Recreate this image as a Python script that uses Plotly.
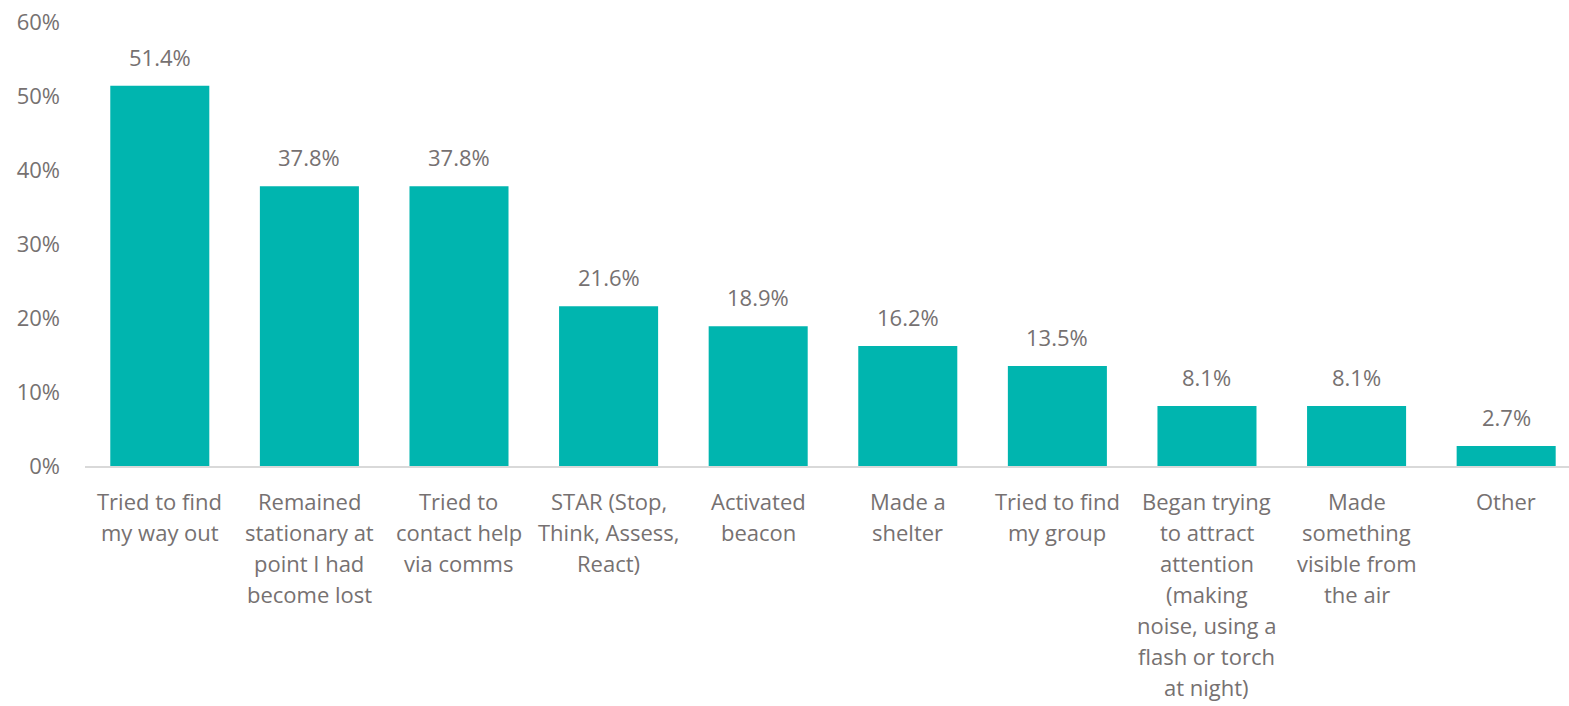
import plotly.graph_objects as go

categories = [
    "Tried to find<br>my way out",
    "Remained<br>stationary at<br>point I had<br>become lost",
    "Tried to<br>contact help<br>via comms",
    "STAR (Stop,<br>Think, Assess,<br>React)",
    "Activated<br>beacon",
    "Made a<br>shelter",
    "Tried to find<br>my group",
    "Began trying<br>to attract<br>attention<br>(making<br>noise, using a<br>flash or torch<br>at night)",
    "Made<br>something<br>visible from<br>the air",
    "Other",
]
values = [51.4, 37.8, 37.8, 21.6, 18.9, 16.2, 13.5, 8.1, 8.1, 2.7]
y_ticks = [0, 10, 20, 30, 40, 50, 60]

text_color = "#767171"
bar_color = "#00B5AF"
font_family = "Open Sans, DejaVu Sans, sans-serif"
font_size = 22
label_font = dict(size=font_size, color=text_color, family=font_family)

x_pos = list(range(len(categories)))

fig = go.Figure(
    go.Bar(
        x=x_pos,
        y=values,
        marker=dict(color=bar_color, line=dict(width=0)),
        hoverinfo="skip",
    )
)

# value labels sitting above each bar
for xi, v in zip(x_pos, values):
    fig.add_annotation(
        x=xi, y=v, text=f"{v:.1f}%", showarrow=False,
        yanchor="bottom", yshift=12, font=label_font,
    )

# category labels, one annotation per line for looser line spacing
first_line_offset = 35
line_step = 31
for xi, cat in zip(x_pos, categories):
    for k, line in enumerate(cat.split("<br>")):
        fig.add_annotation(
            x=xi, y=0, text=line, showarrow=False,
            xanchor="center", yanchor="middle",
            yshift=-(first_line_offset + line_step * k),
            font=label_font,
        )

fig.update_layout(
    width=1569,
    height=706,
    margin=dict(l=85, r=0, t=22, b=240),
    paper_bgcolor="white",
    plot_bgcolor="white",
    bargap=0.338,
    showlegend=False,
    font=dict(family=font_family, size=font_size, color=text_color),
)

fig.update_xaxes(
    tickmode="array",
    tickvals=x_pos,
    showticklabels=False,
    range=[-0.5, 9.42],
    showline=True,
    linecolor="#D9D9D9",
    linewidth=2,
    showgrid=False,
    zeroline=False,
    ticks="",
)

fig.update_yaxes(
    range=[0, 60],
    tickvals=y_ticks,
    ticktext=[f"{t}%" for t in y_ticks],
    showgrid=False,
    zeroline=False,
    showline=False,
    ticks="",
    ticklabelstandoff=24,
    tickfont=label_font,
)

fig.write_html("out.html")
